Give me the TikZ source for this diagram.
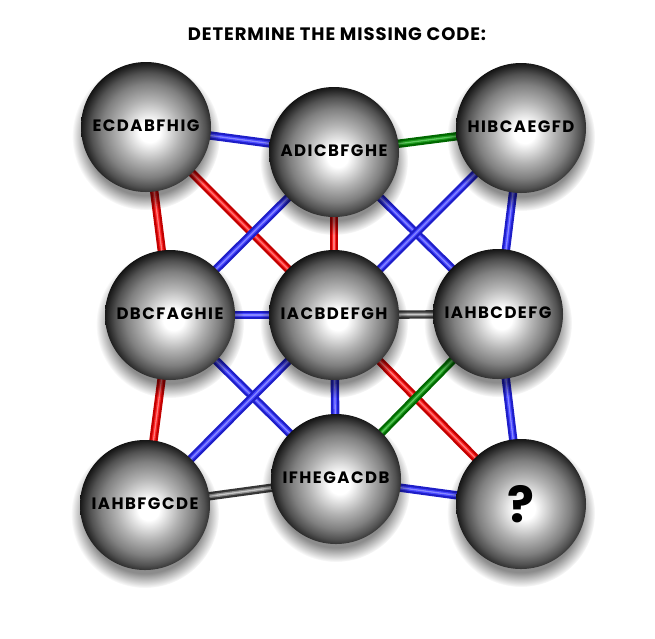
\documentclass[tikz,border=0pt]{standalone}
\usepackage{fontspec}
\setmainfont{Poppins}
\newfontfamily\ballfont[LetterSpace=9]{Poppins}
\newfontfamily\titlefont[LetterSpace=5]{Poppins}
\usetikzlibrary{fadings,backgrounds}
\definecolor{bD}{RGB}{30,30,200}\definecolor{bL}{RGB}{70,70,255}\definecolor{bH}{RGB}{135,135,255}
\definecolor{rD}{RGB}{195,0,0}\definecolor{rL}{RGB}{250,35,35}\definecolor{rH}{RGB}{255,120,120}
\definecolor{gD}{RGB}{0,105,0}\definecolor{gL}{RGB}{30,155,30}\definecolor{gH}{RGB}{95,200,95}
\definecolor{kD}{RGB}{55,55,55}\definecolor{kL}{RGB}{140,140,140}\definecolor{kH}{RGB}{200,200,200}
\pgfdeclareradialshading{sphere}{\pgfpoint{1.5bp}{-2bp}}{color(0bp)=(white); color(4bp)=(white); color(12bp)=(black!30); color(18bp)=(black!50); color(22bp)=(black!68); color(25bp)=(black!86); color(27.5bp)=(black); color(50bp)=(black)}
\tikzset{
  ball/.style={circle, minimum size=130pt, inner sep=0pt, shading=sphere, font=\ballfont\bfseries\fontsize{16.5}{16.5}\selectfont},
  tube/.style n args={3}{line width=2.3pt, draw=#1, double=#2, double distance=3.8pt, postaction={draw=#3, line width=1.3pt}},
  blueT/.style={tube={bD}{bL}{bH}},
  redT/.style={tube={rD}{rL}{rH}},
  greenT/.style={tube={gD}{gL}{gH}},
  grayT/.style={tube={kD}{kL}{kH}},
  shadowfx/.style={fill=black, opacity=0.45, path fading=circle with fuzzy edge 20 percent}
}
\newcommand\lbl[1]{\raisebox{3pt}{#1}}
\begin{document}
\begin{tikzpicture}[x=1pt,y=-1pt]
\useasboundingbox (0,0) rectangle (655,638);
\node[font=\titlefont\bfseries\fontsize{18}{18}\selectfont] (title) at (337,34) {DETERMINE THE MISSING CODE:};
\node[ball] (n1) at (146,127) {\lbl{ECDABFHIG}};
\node[ball] (n2) at (334,152) {\lbl{ADICBFGHE}};
\node[ball] (n3) at (521,128) {\lbl{HIBCAEGFD}};
\node[ball] (n4) at (170,315) {\lbl{DBCFAGHIE}};
\node[ball] (n5) at (334,315) {\lbl{IACBDEFGH}};
\node[ball] (n6) at (498,314) {\lbl{IAHBCDEFG}};
\node[ball] (n7) at (145,505) {\lbl{IAHBFGCDE}};
\node[ball] (n8) at (336,479) {\lbl{IFHEGACDB}};
\node[ball, font=\ballfont\bfseries\fontsize{50}{50}\selectfont] (n9) at (521,504) {?};
\begin{scope}[on background layer]
  \draw[redT] (n1.center) -- (n4.center);
  \draw[redT] (n1.center) -- (n5.center);
  \draw[redT] (n2.center) -- (n5.center);
  \draw[redT] (n4.center) -- (n7.center);
  \draw[redT] (n5.center) -- (n9.center);
  \draw[blueT] (n1.center) -- (n2.center);
  \draw[blueT] (n2.center) -- (n4.center);
  \draw[blueT] (n2.center) -- (n6.center);
  \draw[blueT] (n3.center) -- (n5.center);
  \draw[blueT] (n3.center) -- (n6.center);
  \draw[blueT] (n4.center) -- (n5.center);
  \draw[blueT] (n4.center) -- (n8.center);
  \draw[blueT] (n5.center) -- (n7.center);
  \draw[blueT] (n5.center) -- (n8.center);
  \draw[blueT] (n6.center) -- (n9.center);
  \draw[blueT] (n8.center) -- (n9.center);
  \draw[greenT] (n2.center) -- (n3.center);
  \draw[greenT] (n6.center) -- (n8.center);
  \draw[grayT] (n5.center) -- (n6.center);
  \draw[grayT] (n7.center) -- (n8.center);
  \foreach \n in {n1,n2,n3,n4,n5,n6,n7,n8,n9}
    \fill[shadowfx] ([yshift=-9pt]\n.center) circle (74pt);
\end{scope}
\end{tikzpicture}
\end{document}
